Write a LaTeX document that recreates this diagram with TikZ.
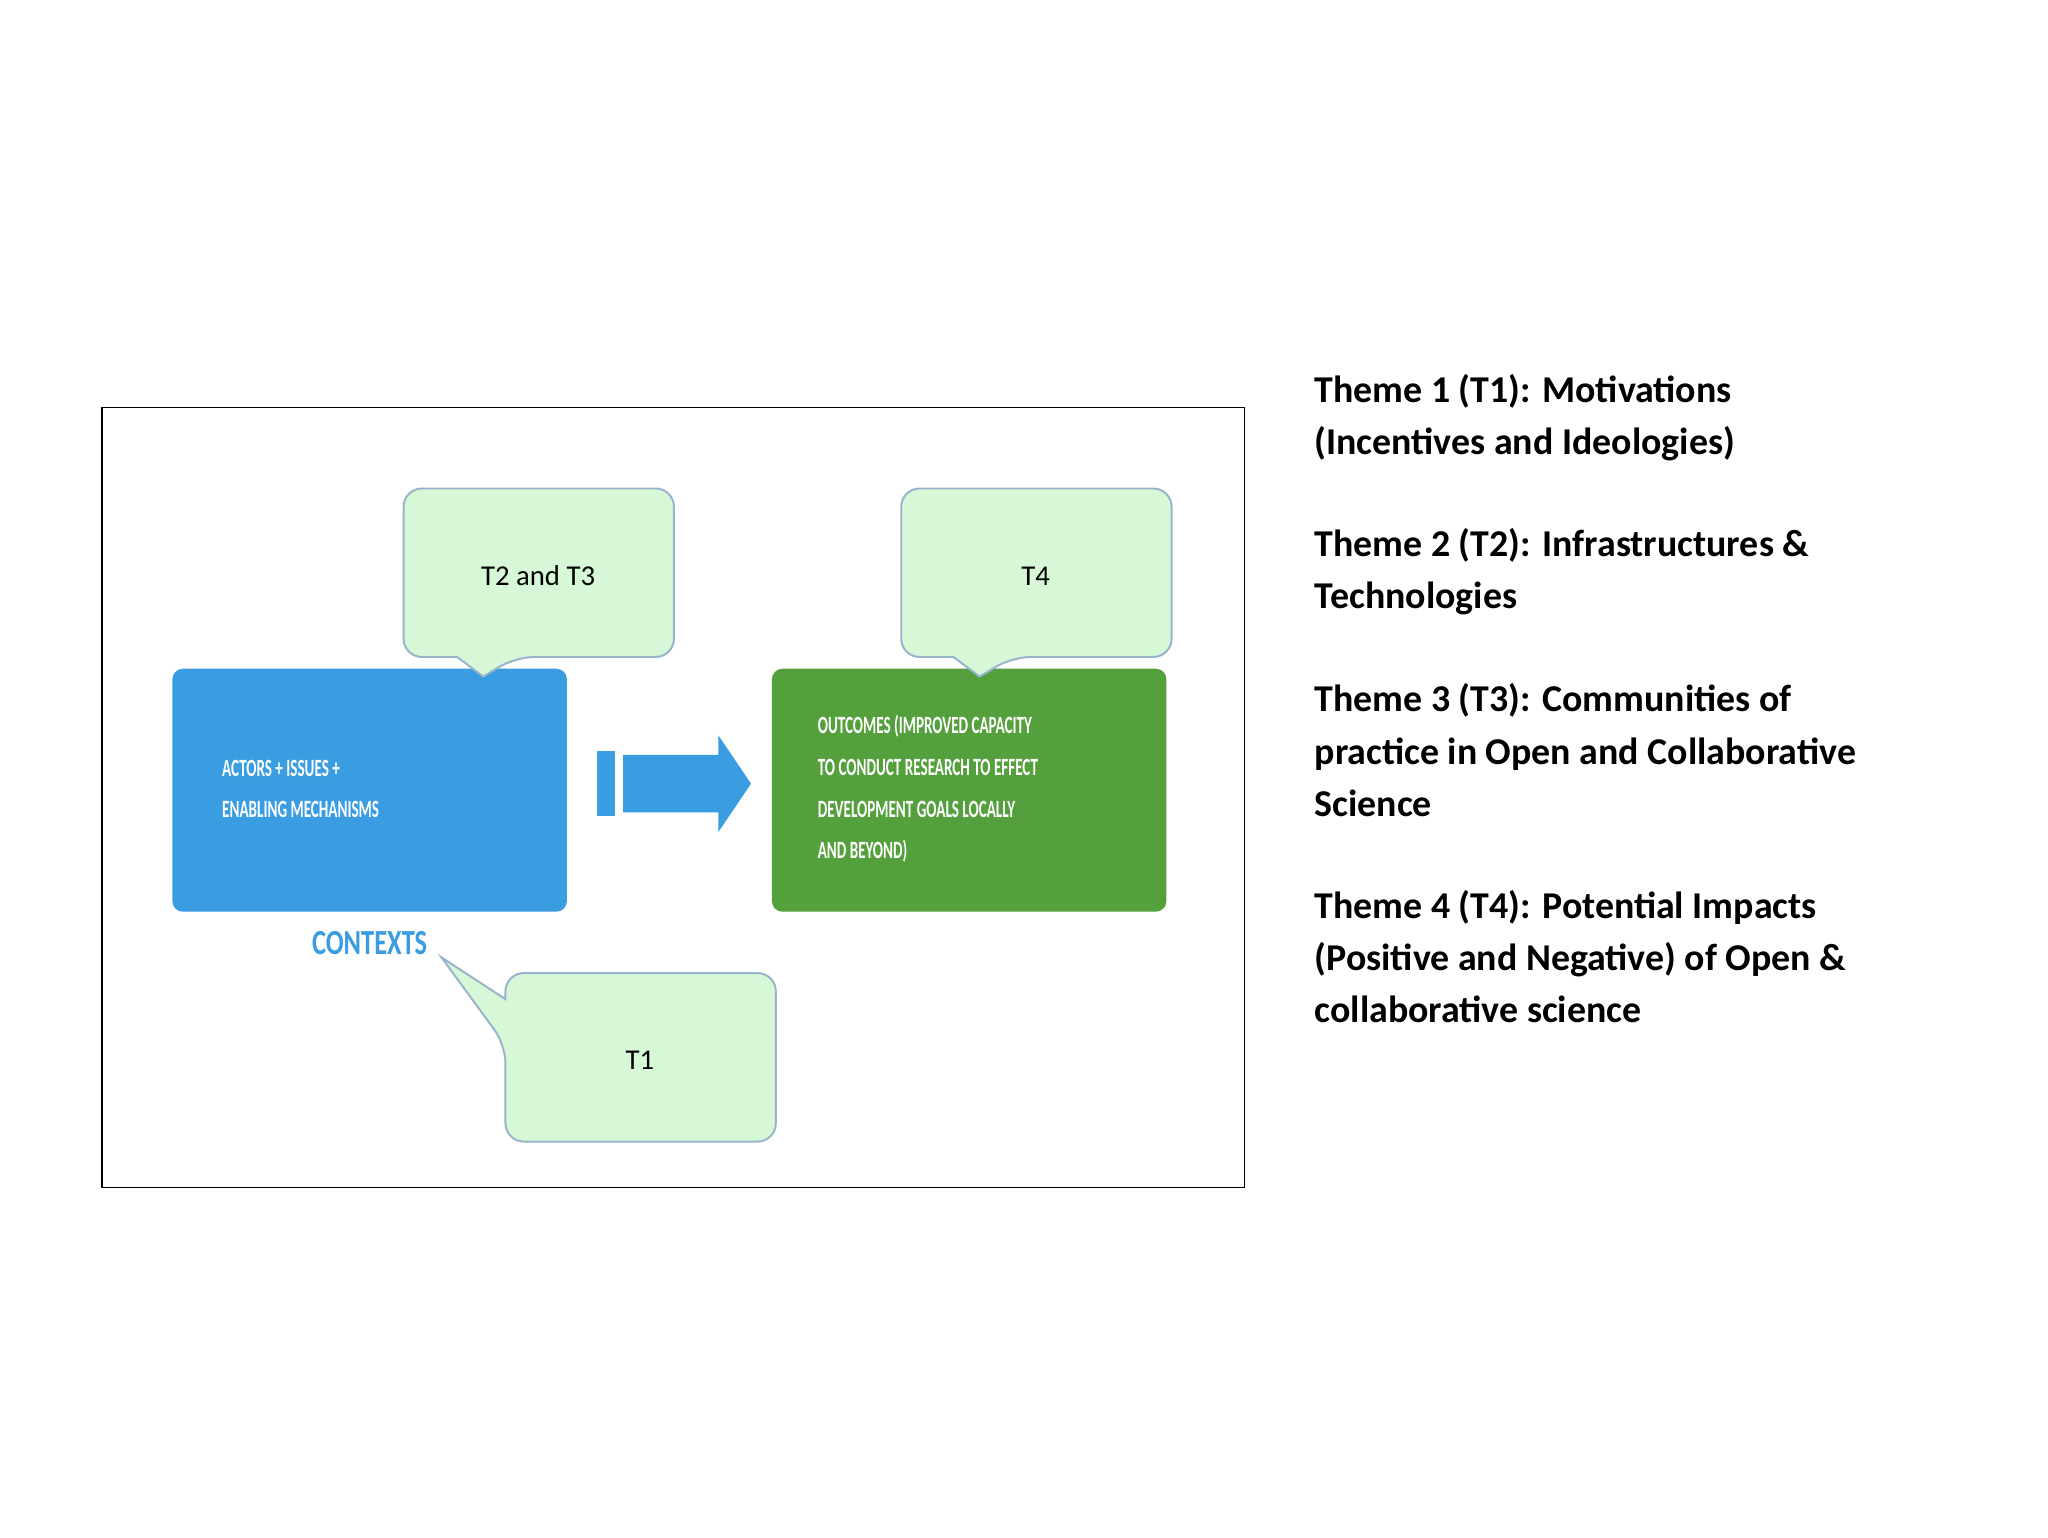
\documentclass[tikz,border=0pt]{standalone}
\usepackage{fontspec}
\setmainfont{Carlito}
\begin{document}
\begin{tikzpicture}[x=1pt,y=-1pt,
  callout/.style={fill=calfill,draw=calline,line width=1.5pt,rounded corners=14pt},
  ctext/.style={font=\fontsize{22}{22}\selectfont,text=black},
  boxtext/.style={text=white,font=\bfseries\fontsize{19}{32}\selectfont,align=left,anchor=west,xscale=0.78,transform shape=false},
  theme/.style={font=\bfseries\fontsize{29}{40}\selectfont,align=left,anchor=north west,text=black}]
\definecolor{calfill}{HTML}{D6F8D6}
\definecolor{calline}{HTML}{98B4CC}
\definecolor{bluebox}{HTML}{3A9DE2}
\definecolor{greenbox}{HTML}{54A03C}
\useasboundingbox (0,0) rectangle (1568,1177);
\fill[white] (0,0) rectangle (1568,1177);
\draw[line width=1pt] (78,312) rectangle (953,909);
% boxes
\node[fill=bluebox,rounded corners=8pt,minimum width=302pt,minimum height=186pt,inner sep=0] (blue) at (283,605) {};
\node[fill=greenbox,rounded corners=8pt,minimum width=302pt,minimum height=186pt,inner sep=0] (green) at (742,605) {};
\node[boxtext,xscale=0.78] (bt) at (168,604) {ACTORS + ISSUES +\\ENABLING MECHANISMS};
\node[boxtext,xscale=0.78] (gt) at (624,604) {OUTCOMES (IMPROVED CAPACITY\\TO CONDUCT RESEARCH TO EFFECT\\DEVELOPMENT GOALS LOCALLY\\AND BEYOND)};
% arrow
\fill[bluebox] (457,575) rectangle (471,625);
\fill[bluebox] (477,578) -- (550,578) -- (550,563) -- (575,600) -- (550,637) -- (550,622) -- (477,622) -- cycle;
% callouts
\draw[callout] (309,503) -- (309,374) -- (516,374) -- (516,503) -- (395,503) [sharp corners]-- (370,518) -- (350,503) [rounded corners=14pt] -- cycle;
\node[ctext] (c23) at (412,441) {T2 and T3};
\draw[callout] (690,503) -- (690,374) -- (897,374) -- (897,503) -- (775,503) [sharp corners]-- (750,518) -- (730,503) [rounded corners=14pt] -- cycle;
\node[ctext] (c4) at (793,441) {T4};
\draw[callout] (387,800) [sharp corners]-- (338,733) -- (387,765) [rounded corners=14pt] -- (387,745) -- (594,745) -- (594,874) -- (387,874) -- cycle;
\node[ctext] (c1) at (490,812) {T1};
\node[text=bluebox,font=\bfseries\fontsize{27}{27}\selectfont,xscale=0.75] (ctx) at (283,722) {CONTEXTS};
% themes
\node[theme] (th1) at (1003,283) {Theme 1 (T1): Motivations\\(Incentives and Ideologies)};
\node[theme] (th2) at (1003,401) {Theme 2 (T2): Infrastructures \&\\Technologies};
\node[theme] (th3) at (1003,520) {Theme 3 (T3): Communities of\\practice in Open and Collaborative\\Science};
\node[theme] (th4) at (1003,678) {Theme 4 (T4): Potential Impacts\\(Positive and Negative) of Open \&\\collaborative science};
\end{tikzpicture}
\end{document}
